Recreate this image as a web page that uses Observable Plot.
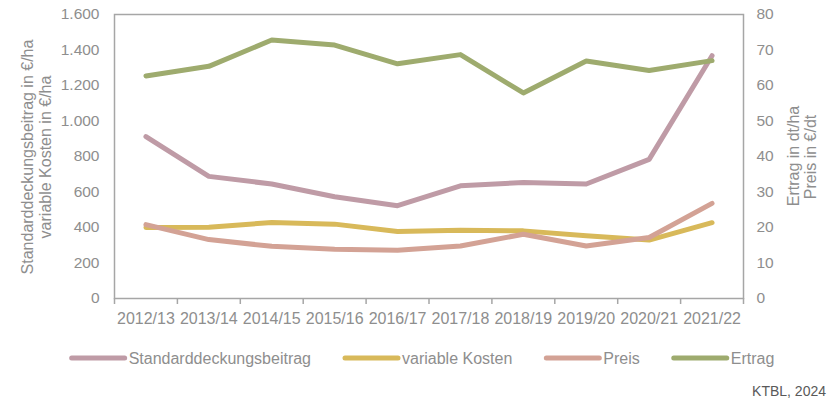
<!DOCTYPE html>
<html><head><meta charset="utf-8">
<script src="https://cdn.jsdelivr.net/npm/d3@7"></script>
<script src="https://cdn.jsdelivr.net/npm/@observablehq/plot@0.6"></script>
<style>
body{margin:0;background:#fff;font-family:"Liberation Sans",Arial,sans-serif;}
#wrap{position:relative;width:836px;height:401px;overflow:hidden;}
#chart{position:absolute;left:0;top:0;}
#legend{position:absolute;left:0;top:340px;}
#caption{position:absolute;right:10px;top:383px;font-size:14px;color:#595959;}
</style></head><body>
<div id="wrap"><div id="chart"></div><svg id="legend" width="836" height="36"></svg><div id="caption">KTBL, 2024</div></div>
<script>
const seasons = ["2012/13","2013/14","2014/15","2015/16","2016/17","2017/18","2018/19","2019/20","2020/21","2021/22"];
const standarddeckungsbeitrag = [912, 688, 645, 573, 523, 635, 654, 645, 784, 1368];
const variableKosten = [400, 402, 428, 419, 378, 385, 381, 353, 329, 427];
const preis = [20.8, 16.6, 14.7, 13.9, 13.6, 14.8, 18.1, 14.8, 17.2, 26.8];
const ertrag = [62.7, 65.4, 72.8, 71.4, 66.1, 68.7, 57.9, 66.9, 64.2, 67.0];
const leftTicks = [0, 200, 400, 600, 800, 1000, 1200, 1400, 1600];
const rightTicks = [0, 10, 20, 30, 40, 50, 60, 70, 80];
const seriesNames = ["Standarddeckungsbeitrag", "variable Kosten", "Preis", "Ertrag"];
const seriesColors = ["#bf9ba6", "#d8b95a", "#d3a295", "#9eab6e"];
const leftTitle = ["Standarddeckungsbeitrag in €/ha", "variable Kosten in €/ha"];
const rightTitle = ["Ertrag in dt/ha", "Preis in €/dt"];

const ratio = d3.max(leftTicks) / d3.max(rightTicks);
const gray = "#8e8e8e";
const axisGray = "#a6a6a6";
const de = d3.formatLocale({decimal: ",", thousands: ".", grouping: [3], currency: ["", " €"]});
const fmtLeft = de.format(",d");

const seriesValues = [standarddeckungsbeitrag, variableKosten, preis, ertrag];
const seriesScale = [1, 1, ratio, ratio];
const rows = seriesNames.map((name, s) => seriesValues[s].map((v, i) => ({name, i, season: seasons[i], value: v, y: v * seriesScale[s]})));

const W = 836, H = 335;
const plot = Plot.plot({
  width: W, height: H,
  marginTop: 14, marginBottom: 37, marginLeft: 114, marginRight: 93,
  style: {fontFamily: "'Liberation Sans', Arial, sans-serif", background: "white"},
  x: {type: "linear", domain: [-0.5, seasons.length - 0.5]},
  y: {domain: [0, d3.max(leftTicks)]},
  marks: [
    Plot.frame({stroke: axisGray, strokeWidth: 1.5}),
    Plot.axisX({ticks: d3.range(seasons.length + 1).map(k => k - 0.5), tickSize: 6, stroke: axisGray, strokeWidth: 1.5, tickFormat: () => "", label: null}),
    Plot.axisX({ticks: d3.range(seasons.length), tickSize: 0, tickPadding: 14, tickFormat: i => seasons[i], fontSize: 16, fill: gray, label: null}),
    Plot.axisY({anchor: "left", ticks: leftTicks, tickSize: 0, tickPadding: 15, tickFormat: fmtLeft, fontSize: 15.5, fill: gray, label: null}),
    Plot.axisY({anchor: "right", ticks: rightTicks.map(v => v * ratio), tickSize: 0, tickPadding: 13, tickFormat: d => d3.format("d")(d / ratio), fontSize: 15.5, fill: gray, label: null}),
    ...rows.map((r, s) => Plot.line(r, {x: "i", y: "y", stroke: seriesColors[s], strokeWidth: 5, strokeLinecap: "round", strokeLinejoin: "round"}))
  ]
});
document.getElementById("chart").appendChild(plot);

// axis titles
const svg = d3.select(plot);
const addTitle = (txt, x, y) => svg.append("text")
  .attr("transform", `translate(${x},${y}) rotate(-90)`)
  .attr("text-anchor", "middle").attr("dominant-baseline", "central")
  .attr("font-size", 16).attr("fill", gray).text(txt);
addTitle(leftTitle[0], 27, 157);
addTitle(leftTitle[1], 45, 157);
addTitle(rightTitle[0], 793, 156);
addTitle(rightTitle[1], 810, 157);

// legend
const lg = d3.select("#legend");
const swatch = 53, gapT = 4, gapItem = 34, cy = 18;
const items = seriesNames.map((n, s) => {
  const g = lg.append("g");
  g.append("line").attr("x1", 0).attr("x2", swatch).attr("y1", cy).attr("y2", cy)
    .attr("stroke", seriesColors[s]).attr("stroke-width", 5).attr("stroke-linecap", "round");
  const t = g.append("text").attr("x", swatch + gapT).attr("y", cy).attr("dominant-baseline", "central")
    .attr("font-size", 16).attr("fill", gray).text(n);
  return {g, w: swatch + gapT + t.node().getComputedTextLength()};
});
const total = d3.sum(items, d => d.w) + gapItem * (items.length - 1);
let x0 = 423 - total / 2;
items.forEach(it => { it.g.attr("transform", `translate(${x0},0)`); x0 += it.w + gapItem; });
</script>
</body></html>
